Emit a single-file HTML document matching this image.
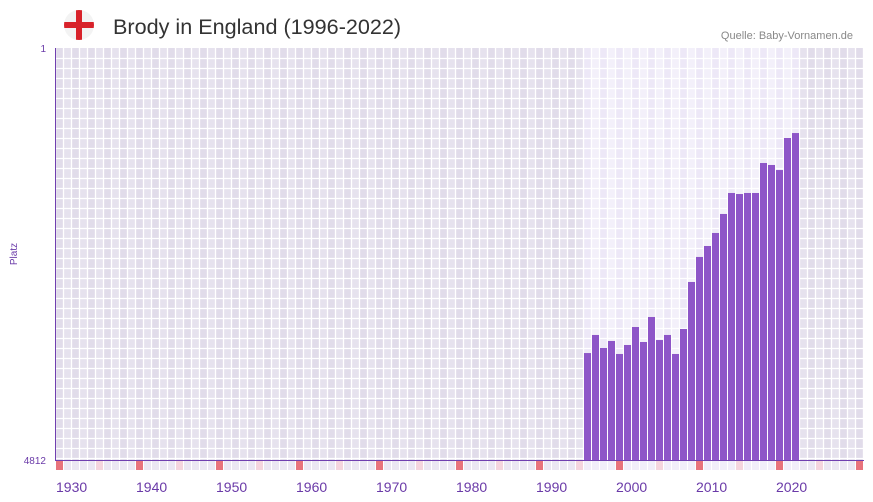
<!DOCTYPE html>
<html><head><meta charset="utf-8"><style>
body{margin:0;width:873px;height:502px;background:#fff;font-family:"Liberation Sans",sans-serif;overflow:hidden;position:relative}
#title{position:absolute;left:113px;top:14px;font-size:21.6px;color:#333}
#src{position:absolute;right:20px;top:30px;font-size:11px;color:#888}
#flag{position:absolute;left:64px;top:10px;width:30px;height:30px;border-radius:50%;background:#f3f3f3;overflow:hidden}
</style></head><body>
<div id="flag"><div style="position:absolute;left:12px;top:0;width:6px;height:30px;background:#d8222a"></div><div style="position:absolute;left:0;top:12px;width:30px;height:6px;background:#d8222a"></div></div>
<div id="title">Brody in England (1996-2022)</div>
<div id="src">Quelle: Baby-Vornamen.de</div>
<svg id="chart" width="873" height="502" style="position:absolute;left:0;top:0"></svg>
<script>
const years=[1996,1997,1998,1999,2000,2001,2002,2003,2004,2005,2006,2007,2008,2009,2010,2011,2012,2013,2014,2015,2016,2017,2018,2019,2020,2021,2022];
const ranks=[3563,3352,3504,3422,3574,3469,3259,3434,3142,3411,3352,3574,3282,2733,2441,2313,2161,1939,1694,1706,1694,1694,1344,1367,1426,1052,994];
const xTicks=[1930,1940,1950,1960,1970,1980,1990,2000,2010,2020];
const yTicks=[1,4812];
const NS="http://www.w3.org/2000/svg";
const svg=document.getElementById('chart');
const L=56,T=48,B=460,Y0=1930,Y1=2030,W=8;
const x=y=>L+(y-Y0)*W;
const yS=r=>T+(r-1)/(4812-1)*(B-T);
function el(t,a,p){const e=document.createElementNS(NS,t);for(const k in a)e.setAttribute(k,a[k]);(p||svg).appendChild(e);return e;}
const minY=Math.min(...years),maxY=Math.max(...years);
for(let yr=Y0;yr<=Y1;yr++){
  const inside=yr>=minY&&yr<=maxY;
  const c=inside?(yr%2?'#f3f0fa':'#ede8f7'):(yr%2?'#e6e2ee':'#e1dcea');
  const col=el('rect',{x:x(yr),y:T,width:W,height:B-T,fill:c});
  
  
  let m=yr%10===0?'#e8737c':(yr%5===0?'#f5d5de':(inside?'#f1eefa':'#ebe7f3'));
  const mk=el('rect',{x:x(yr),y:B+1,width:W-1,height:9,fill:m});
  
  
}
for(let i=0;i<=101;i++){el('line',{x1:x(Y0+i)-0.5,x2:x(Y0+i)-0.5,y1:T,y2:B,stroke:'#fff','stroke-width':1.3});}
for(let yy=T+10;yy<B;yy+=10){el('line',{x1:L,x2:864,y1:yy+0.5,y2:yy+0.5,stroke:'#fff','stroke-width':1.3});}
years.forEach((yr,i)=>{
  const b=el('rect',{x:x(yr),y:yS(ranks[i]),width:W-1,height:B-yS(ranks[i]),fill:'#8e56c8'});
  
  
});
el('line',{x1:L-0.5,x2:L-0.5,y1:T,y2:B+1,stroke:'#7040b0','stroke-width':1});
el('line',{x1:L,x2:864,y1:B+0.5,y2:B+0.5,stroke:'#7040b0','stroke-width':1});
xTicks.forEach(t=>{
  const tx=el('text',{x:x(t),y:492,'font-size':14,fill:'#6a3aa8'});tx.textContent=t;
  
  
});
yTicks.forEach(t=>{
  const tx=el('text',{x:46,y:yS(t)+4,'font-size':10,fill:'#6a3aa8','text-anchor':'end'});tx.textContent=t;
  
  
});
const yt=el('text',{x:17,y:254,'font-size':10,fill:'#6a3aa8','text-anchor':'middle',transform:'rotate(-90 17 254)'});yt.textContent='Platz';


</script>
</body></html>
